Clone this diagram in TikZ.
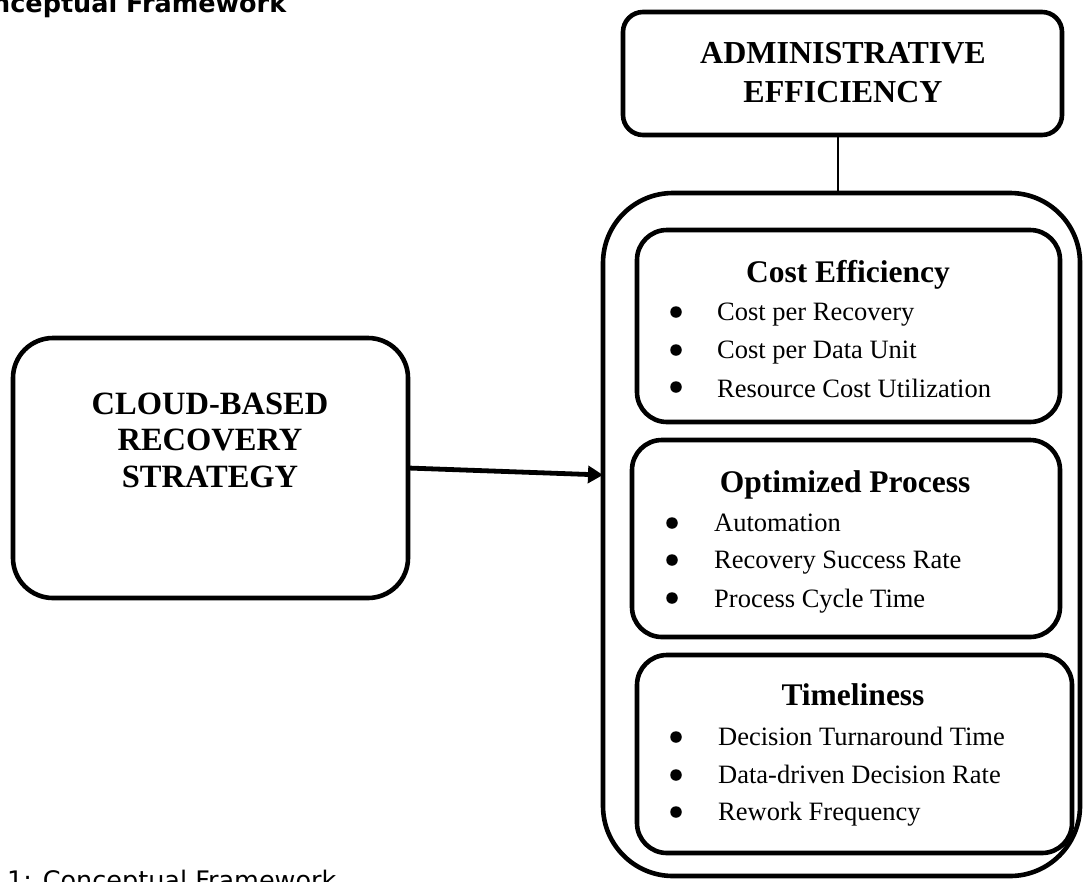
\documentclass[tikz,border=0pt]{standalone}
\usepackage{fontspec}
\setmainfont{Liberation Serif}
\newfontfamily\sansf{DejaVu Sans}
\usetikzlibrary{arrows.meta}
\begin{document}
\begin{tikzpicture}[x=1pt,y=-1pt,
  box/.style={draw, line width=4.6pt, rounded corners=#1, inner sep=0pt, outer sep=0pt},
  bighead/.style={font=\bfseries\fontsize{32}{39}\selectfont, align=center, inner sep=0pt},
  cloudhead/.style={font=\bfseries\fontsize{32.5}{36.5}\selectfont, align=center, inner sep=0pt},
  head/.style={font=\bfseries\fontsize{31.5}{37}\selectfont, anchor=base, inner sep=0pt},
  item/.style={anchor=base west, font=\fontsize{26.5}{30}\selectfont, inner sep=0pt},
  dot/.style={circle, fill, minimum size=11.5pt, inner sep=0pt},
  thinline/.style={line width=1.5pt},
  arrowline/.style={line width=4.8pt, -{Triangle[length=15pt,width=17pt]}}]
\useasboundingbox (0,0) rectangle (1083,881);
\clip (0,0) rectangle (1083,881);

% captions
\node[anchor=base west, inner sep=0pt, font=\sansf\bfseries\fontsize{25.5}{30}\selectfont] (title) at (-8,12.5) {nceptual Framework};
\node[anchor=base west, inner sep=0pt, font=\sansf\fontsize{25.5}{30}\selectfont] (caption) at (7,889) {1: Conceptual Framework};

% boxes
\node[box=20pt, minimum width=439pt, minimum height=123pt] (admin) at (842.5,73.5) {};
\node[box=70pt, minimum width=477pt, minimum height=683pt] (outer) at (841.5,534.5) {};
\node[box=30pt, minimum width=423pt, minimum height=192pt] (cost) at (848.5,326) {};
\node[box=30pt, minimum width=428pt, minimum height=197pt] (opt) at (846,538.5) {};
\node[box=30pt, minimum width=435pt, minimum height=198pt] (time) at (854.5,754) {};
\node[box=40pt, minimum width=395pt, minimum height=260pt] (cloud) at (210.5,468) {};

% box texts
\node[bighead] (admintext) at (843,72.5) {ADMINISTRATIVE\\EFFICIENCY};
\node[cloudhead] (cloudtext) at (210,440) {CLOUD-BASED\\RECOVERY\\STRATEGY};

\node[head] (costhead) at (848,282) {Cost Efficiency};
\node[dot] (c1d) at (676,312) {};
\node[dot] (c2d) at (676,350) {};
\node[dot] (c3d) at (676,387) {};
\node[item] (c1) at (717,320) {Cost per Recovery};
\node[item] (c2) at (717,358) {Cost per Data Unit};
\node[item] (c3) at (717,397) {Resource Cost Utilization};

\node[head] (opthead) at (845,492) {Optimized Process};
\node[dot] (o1d) at (672,523) {};
\node[dot] (o2d) at (672,560) {};
\node[dot] (o3d) at (672,598) {};
\node[item] (o1) at (714,531) {Automation};
\node[item] (o2) at (714,568) {Recovery Success Rate};
\node[item] (o3) at (714,607) {Process Cycle Time};

\node[head] (timehead) at (853,705) {Timeliness};
\node[dot] (t1d) at (676,737) {};
\node[dot] (t2d) at (676,775) {};
\node[dot] (t3d) at (676,812) {};
\node[item] (t1) at (718,745) {Decision Turnaround Time};
\node[item] (t2) at (718,783) {Data-driven Decision Rate};
\node[item] (t3) at (718,820) {Rework Frequency};

% connectors
\draw[thinline] ([xshift=-4.5pt]admin.south) -- ([xshift=-4.5pt]admin.south |- outer.north);
\draw[arrowline] (cloud.east) -- ([yshift=59.5pt]outer.west);
\end{tikzpicture}
\end{document}
